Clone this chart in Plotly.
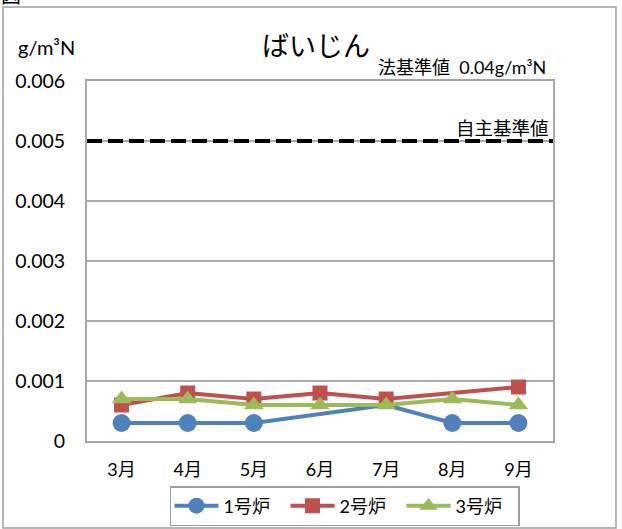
import plotly.graph_objects as go

# Monthly dust (ばいじん) concentration per furnace, g/m3N
months = ["3月", "4月", "5月", "6月", "7月", "8月", "9月"]
furnace1 = [0.0003, 0.0003, 0.0003, None, 0.0006, 0.0003, 0.0003]
furnace2 = [0.0006, 0.0008, 0.0007, 0.0008, 0.0007, None, 0.0009]
furnace3 = [0.0007, 0.0007, 0.0006, 0.0006, 0.0006, 0.0007, 0.0006]
series_names = ["1号炉", "2号炉", "3号炉"]

voluntary_limit = 0.005
y_ticks = [0, 0.001, 0.002, 0.003, 0.004, 0.005, 0.006]
y_tick_text = ["0", "0.001", "0.002", "0.003", "0.004", "0.005", "0.006"]

W, H = 622, 529
L, R, T, B = 87, 553, 81, 441  # plot-area edges in pixels

FONT = "Lato, 'Noto Sans CJK JP', sans-serif"
JP = "'Noto Sans CJK JP', sans-serif"


def px_x(x):
    return (x - L) / (R - L)


def px_y(y):
    return (B - y) / (B - T)


fig = go.Figure()

styles = [
    ("#4F81BD", "circle", 18),
    ("#C0504D", "square", 15),
    ("#9BBB59", "triangle-up", 17),
]
# points drawn without a marker (the line still passes through them)
no_marker = {"1号炉": {"7月"}}

for name, values, (color, symbol, size) in zip(series_names, [furnace1, furnace2, furnace3], styles):
    line = dict(color=color, width=4)
    marker = dict(symbol=symbol, size=size, color=color)
    hidden = no_marker.get(name, set())
    marker_y = [None if m in hidden else v for m, v in zip(months, values)]
    # connecting line
    fig.add_trace(go.Scatter(x=months, y=values, mode="lines", connectgaps=True,
                             line=line, showlegend=False, legendgroup=name))
    # point markers
    fig.add_trace(go.Scatter(x=months, y=marker_y, mode="markers",
                             marker=marker, showlegend=False, legendgroup=name))
    # legend entry
    fig.add_trace(go.Scatter(x=[None], y=[None], name=name, mode="lines+markers",
                             line=line, marker=marker, legendgroup=name))

# voluntary limit as a dashed reference line
fig.add_shape(type="line", xref="paper", yref="y",
              x0=0, x1=1, y0=voluntary_limit, y1=voluntary_limit,
              line=dict(color="black", width=4, dash="15px,6px"), layer="above")

# outer chart frame
fig.add_shape(type="rect", xref="paper", yref="paper",
              x0=px_x(3), x1=px_x(616), y0=px_y(528), y1=px_y(7),
              line=dict(color="#9E9E9E", width=1.5), layer="below")

annotations = [
    dict(text="図", x=px_x(11), y=px_y(-5), font=dict(size=20, family=JP, color="black")),
    dict(text="ばいじん", x=px_x(316), y=px_y(45), font=dict(size=27, family=JP, color="black")),
    dict(text="法基準値  0.04g/m³N", x=px_x(462), y=px_y(67), font=dict(size=18, family=FONT, color="black")),
    dict(text="自主基準値", x=px_x(502), y=px_y(127), font=dict(size=18.5, family=JP, color="black")),
    dict(text="g/m³N", x=px_x(46), y=px_y(47), font=dict(size=20, family=FONT, color="black")),
]
for a in annotations:
    fig.add_annotation(xref="paper", yref="paper", showarrow=False,
                       xanchor="center", yanchor="middle", **a)

fig.update_layout(
    width=W, height=H,
    margin=dict(l=L, r=W - R, t=T, b=H - B, autoexpand=False),
    paper_bgcolor="white", plot_bgcolor="white",
    font=dict(family=FONT, color="black"),
    showlegend=True,
    legend=dict(orientation="h", x=0.5 * (px_x(172) + px_x(517)), xanchor="center",
                y=px_y(506), yanchor="middle",
                bordercolor="#9E9E9E", borderwidth=1.5,
                font=dict(size=18, family=FONT, color="black"),
                tracegroupgap=0, itemwidth=44,
                entrywidth=57, entrywidthmode="pixels"),
    xaxis=dict(
        type="category", showgrid=False, ticks="",
        showline=True, linecolor="#A6A6A6", linewidth=2, mirror=True,
        tickfont=dict(size=18, family=FONT), ticklabelstandoff=11,
    ),
    yaxis=dict(
        range=[0, 0.006], tickvals=y_ticks, ticktext=y_tick_text,
        showgrid=True, gridcolor="#ABABAB", gridwidth=1.5,
        zeroline=False, ticks="",
        showline=True, linecolor="#A6A6A6", linewidth=2, mirror=True,
        tickfont=dict(size=19.5, family=FONT), ticklabelstandoff=16,
    ),
)

fig.write_html("out.html")
